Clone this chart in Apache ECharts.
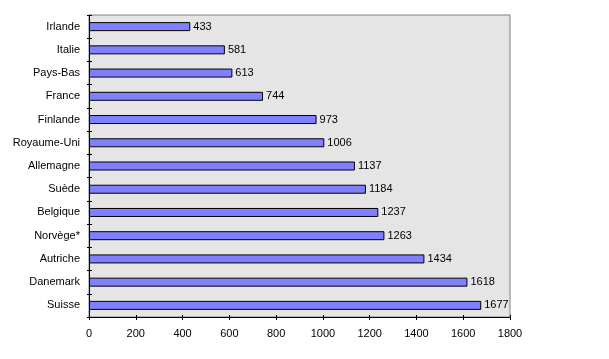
<!DOCTYPE html>
<html><head><meta charset="utf-8">
<script src="https://cdn.jsdelivr.net/npm/echarts@6/dist/echarts.min.js"></script>
<style>html,body{margin:0;padding:0;background:#fff}#c{width:609px;height:359px}</style>
</head><body><div id="c"></div>
<script>
const categories = ["Irlande","Italie","Pays-Bas","France","Finlande","Royaume-Uni","Allemagne","Suède","Belgique","Norvège*","Autriche","Danemark","Suisse"];
const values = [433,581,613,744,973,1006,1137,1184,1237,1263,1434,1618,1677];
const xTicks = [0,200,400,600,800,1000,1200,1400,1600,1800];

const chart = echarts.init(document.getElementById('c'));
const font = {fontFamily:'Liberation Sans, Arial, sans-serif', fontSize:11, color:'#000'};
chart.setOption({
  animation:false,
  grid:{left:89,right:99,top:15,bottom:42,show:true,backgroundColor:'#e5e5e5',borderColor:'#808080',borderWidth:1},
  xAxis:[{
    type:'value',min:xTicks[0],max:xTicks[xTicks.length-1],interval:200,
    axisLine:{show:true,lineStyle:{color:'#000',width:1}},
    axisTick:{show:true,length:3,lineStyle:{color:'#000'}},
    axisLabel:Object.assign({margin:11,formatter:function(v){return String(v);}},font),
    splitLine:{show:false}
  },{
    type:'value',min:xTicks[0],max:xTicks[xTicks.length-1],interval:200,position:'bottom',
    axisLine:{show:false},
    axisTick:{show:true,inside:true,length:2,lineStyle:{color:'#000'}},
    axisLabel:{show:false},splitLine:{show:false}
  }],
  yAxis:[{
    type:'category',data:categories,inverse:true,
    axisLine:{show:true,lineStyle:{color:'#000',width:1}},
    axisTick:{show:true,length:2,lineStyle:{color:'#000'}},
    axisLabel:Object.assign({margin:9},font)
  },{
    type:'category',data:categories,inverse:true,position:'left',
    axisLine:{show:false},
    axisTick:{show:true,inside:true,length:3,lineStyle:{color:'#000'}},
    axisLabel:{show:false}
  }],
  series:[{
    type:'bar',data:values,barWidth:9,
    itemStyle:{color:'#8080ff',borderColor:'#000',borderWidth:1},
    label:{show:true,position:'right',distance:3,fontFamily:'Liberation Sans, Arial, sans-serif',fontSize:11,color:'#000'}
  }]
});
</script></body></html>
